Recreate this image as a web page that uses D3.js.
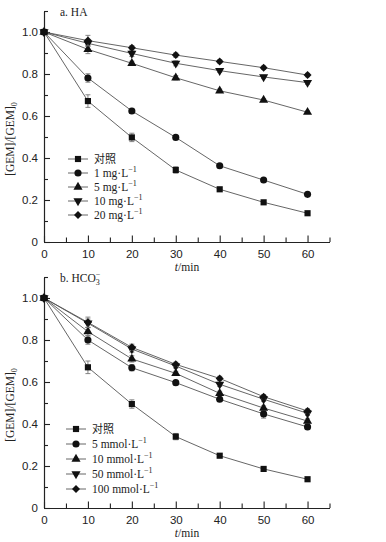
<!DOCTYPE html>
<html>
<head>
<meta charset="utf-8">
<script src="https://cdn.jsdelivr.net/npm/d3@7"></script>
<style>
    body { margin: 0; background: #fff; }
    svg { display: block; font-family: "Liberation Serif", "Noto Sans CJK SC", serif; }
    .tick text { font-size: 11.5px; fill: #222; }
    .domain, .tick line { stroke: #222; stroke-width: 1.1; }
    .series-line { fill: none; stroke: #555; stroke-width: 0.9; }
    .err { stroke: #777; stroke-width: 0.9; }
    .lbl { font-size: 11.5px; fill: #222; }
</style>
</head>
<body>
<svg id="chart" width="386" height="542"></svg>
<script>
// time points (min)
const times = [0, 10, 20, 30, 40, 50, 60];

// panel a: HA
const haNames = ['对照', '1 mg·L', '5 mg·L', '10 mg·L', '20 mg·L'];
const haControl = [1, 0.671, 0.498, 0.343, 0.251, 0.189, 0.137];
const ha1 = [1, 0.781, 0.624, 0.498, 0.363, 0.295, 0.227];
const ha5 = [1, 0.917, 0.851, 0.782, 0.720, 0.676, 0.618];
const ha10 = [1, 0.946, 0.898, 0.851, 0.816, 0.786, 0.759];
const ha20 = [1, 0.959, 0.925, 0.890, 0.860, 0.830, 0.795];
const haErr = [
    [0, 0.03, 0.02, 0.015, 0.008, 0.006, 0.006],
    [0, 0.02, 0.012, 0.008, 0.006, 0.006, 0.006],
    [0, 0.02, 0.01, 0.01, 0.008, 0.006, 0.006],
    [0, 0.015, 0.015, 0.012, 0.008, 0.008, 0.008],
    [0, 0.025, 0.01, 0.01, 0.008, 0.008, 0.008]
];

// panel b: HCO3-
const hcoNames = ['对照', '5 mmol·L', '10 mmol·L', '50 mmol·L', '100 mmol·L'];
const hcoControl = [1, 0.670, 0.495, 0.340, 0.249, 0.186, 0.137];
const hco5 = [1, 0.800, 0.668, 0.597, 0.518, 0.448, 0.386];
const hco10 = [1, 0.840, 0.710, 0.641, 0.546, 0.476, 0.414];
const hco50 = [1, 0.880, 0.757, 0.676, 0.589, 0.518, 0.451];
const hco100 = [1, 0.884, 0.765, 0.684, 0.617, 0.530, 0.462];
const hcoErr = [
    [0, 0.03, 0.02, 0.015, 0.008, 0.006, 0.006],
    [0, 0.02, 0.015, 0.01, 0.01, 0.02, 0.01],
    [0, 0.02, 0.015, 0.01, 0.01, 0.01, 0.01],
    [0, 0.02, 0.015, 0.01, 0.01, 0.01, 0.01],
    [0, 0.025, 0.015, 0.01, 0.01, 0.01, 0.01]
];

const xTicks = [0, 10, 20, 30, 40, 50, 60];
const yTicks = [0, 0.2, 0.4, 0.6, 0.8, 1.0];

const symbols = [
    d3.symbol().type(d3.symbolSquare).size(38),
    d3.symbol().type(d3.symbolCircle).size(40),
    d3.symbol().type(d3.symbolTriangle).size(36),
    d3.symbol().type(d3.symbolTriangle).size(36),   // rotated -> down triangle
    d3.symbol().type(d3.symbolSquare).size(32)      // rotated -> diamond
];
const rotations = [0, 0, 0, 180, 45];

const svg = d3.select('#chart');

function drawPanel(p) {
    const x = d3.scaleLinear().domain([0, 65]).range([44, 329.5]);
    const y = d3.scaleLinear().domain([0, 1.1]).range([p.y0, p.y0 - 231]);
    const g = svg.append('g');

    // minor ticks
    g.append('g')
        .attr('transform', `translate(0,${p.y0})`)
        .call(d3.axisBottom(x).tickValues([5, 15, 25, 35, 45, 55, 65]).tickSize(-4.5).tickSizeOuter(0).tickFormat(''));
    g.append('g')
        .attr('transform', 'translate(44,0)')
        .call(d3.axisLeft(y).tickValues([0.1, 0.3, 0.5, 0.7, 0.9, 1.1]).tickSize(-4).tickSizeOuter(0).tickFormat(''));

    // major ticks with labels
    g.append('g')
        .attr('transform', `translate(0,${p.y0})`)
        .call(d3.axisBottom(x).tickValues(xTicks).tickSize(-6.5).tickSizeOuter(0).tickPadding(8)
            .tickFormat(d3.format('d')));
    g.append('g')
        .attr('transform', 'translate(44,0)')
        .call(d3.axisLeft(y).tickValues(yTicks).tickSize(-6).tickSizeOuter(0).tickPadding(6)
            .tickFormat(d => d === 0 ? '0' : d3.format('.1f')(d)));

    // panel title
    g.append('text').attr('class', 'lbl').attr('x', 60).attr('y', p.y0 - 226).html(p.title);

    // axis labels
    g.append('text').attr('class', 'lbl')
        .attr('x', 187).attr('y', p.y0 + 29).attr('text-anchor', 'middle')
        .html('<tspan font-style="italic">t</tspan>/min');
    g.append('text').attr('class', 'lbl')
        .attr('transform', `translate(14,${p.y0 - 103}) rotate(-90)`)
        .attr('text-anchor', 'middle')
        .html('[GEM]/[GEM]<tspan font-size="8" dy="3">0</tspan>');

    const line = d3.line().x((d, i) => x(times[i])).y(d => y(d));

    p.series.forEach((vals, s) => {
        g.append('path').attr('class', 'series-line').attr('d', line(vals));
    });

    p.series.forEach((vals, s) => {
        vals.forEach((v, i) => {
            const e = p.err[s][i];
            if (e > 0) {
                const cx = x(times[i]);
                g.append('line').attr('class', 'err')
                    .attr('x1', cx).attr('x2', cx).attr('y1', y(v - e)).attr('y2', y(v + e));
                [v - e, v + e].forEach(t => {
                    g.append('line').attr('class', 'err')
                        .attr('x1', cx - 2.5).attr('x2', cx + 2.5).attr('y1', y(t)).attr('y2', y(t));
                });
            }
        });
        g.selectAll(null).data(vals).enter().append('path')
            .attr('d', symbols[s])
            .attr('fill', '#111')
            .attr('transform', (d, i) => `translate(${x(times[i])},${y(d)}) rotate(${rotations[s]})`);
    });

    // legend
    p.names.forEach((name, s) => {
        const ly = p.legendY + s * p.legendStep;
        g.append('line').attr('x1', p.legendX).attr('x2', p.legendX + 20)
            .attr('y1', ly).attr('y2', ly).attr('stroke', '#555').attr('stroke-width', 0.9);
        g.append('path').attr('d', symbols[s]).attr('fill', '#111')
            .attr('transform', `translate(${p.legendX + 10},${ly}) rotate(${rotations[s]})`);
        const t = g.append('text').attr('class', 'lbl').attr('x', p.legendX + 26).attr('y', ly + 4);
        if (s === 0) {
            t.text(name).style('font-family', '"Noto Sans CJK SC", sans-serif').style('font-size', '11px');
        } else {
            t.html(name + '<tspan font-size="8" dy="-5">−1</tspan>');
        }
    });
}

drawPanel({
    y0: 242,
    title: 'a. HA',
    names: haNames,
    series: [haControl, ha1, ha5, ha10, ha20],
    err: haErr,
    legendX: 68, legendY: 159, legendStep: 14
});

drawPanel({
    y0: 508,
    title: 'b. HCO<tspan font-size="8" dy="3">3</tspan><tspan font-size="8" dx="-4" dy="-8">−</tspan>',
    names: hcoNames,
    series: [hcoControl, hco5, hco10, hco50, hco100],
    err: hcoErr,
    legendX: 66, legendY: 429, legendStep: 15
});
</script>
</body>
</html>
